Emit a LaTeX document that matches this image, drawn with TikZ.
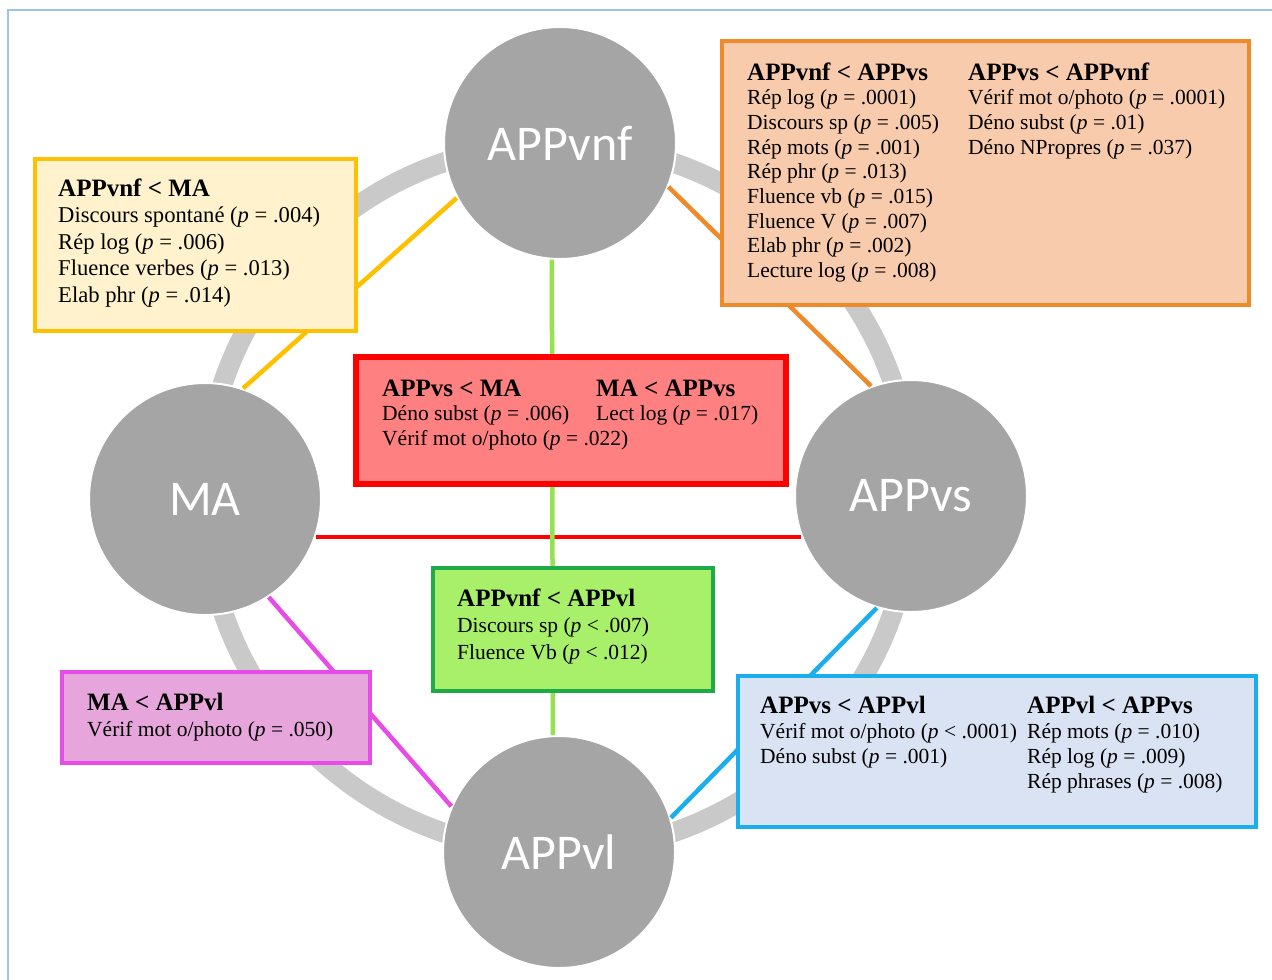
\documentclass[tikz,border=0pt]{standalone}
\usepackage{fontspec}
\setmainfont{Liberation Serif}
\newfontfamily\carlito{Carlito}

\definecolor{bubgray}{HTML}{A5A5A5}
\definecolor{ringgray}{HTML}{C9C9C9}
\definecolor{framecol}{HTML}{9DC3E6}
\definecolor{yelB}{HTML}{FFC000}
\definecolor{yelF}{HTML}{FFF2CC}
\definecolor{oraB}{HTML}{EE8A2A}
\definecolor{oraF}{HTML}{F8CBAD}
\definecolor{redB}{HTML}{FF0000}
\definecolor{redF}{HTML}{FF8080}
\definecolor{grnB}{HTML}{1FAA48}
\definecolor{grnF}{HTML}{A8F06A}
\definecolor{grnL}{HTML}{96E150}
\definecolor{magB}{HTML}{E64CE6}
\definecolor{magF}{HTML}{E6A6DC}
\definecolor{bluB}{HTML}{1AAEEC}
\definecolor{bluF}{HTML}{DAE3F3}

\newcommand{\ttl}[1]{{\fontsize{25}{25}\selectfont\bfseries #1}}
\newcommand{\pv}{\textit{p}}

\begin{document}
\begin{tikzpicture}[x=1pt,y=-1pt,
  bub/.style={circle,fill=bubgray,draw=white,line width=2pt,minimum size=232pt,
    inner sep=0pt,text=white,font=\carlito\fontsize{50}{50}\selectfont},
  box/.style={draw,line width=4pt,inner sep=0pt},
  col/.style={anchor=base west,inner sep=0pt,font=\fontsize{21.5}{25}\selectfont},
  lnk/.style={line width=4.5pt}]
  \useasboundingbox (0,0) rectangle (1272,980);
  % cadre et anneau
  \draw[framecol,line width=1.2pt] (8,980) -- (8,10) -- (1272,10);
  \draw[ringgray,line width=20pt] (558,497.5) circle[radius=354pt];
  % les quatre groupes
  \node[bub] (vnf) at (560,143) {APPvnf};
  \node[bub] (ma)  at (205,499) {MA};
  \node[bub] (vs)  at (911,496) {APPvs};
  \node[bub] (vl)  at (559,852) {APPvl};
  % liens entre groupes
  \draw[lnk,yelB] (ma.71) -- (vnf.208);
  \draw[lnk,oraB] (vnf.338) -- (vs.110);
  \draw[lnk,redB] (ma.341) -- (ma.341 -| vs.200);
  \draw[lnk,grnL] (vnf.266) -- (vl.93);
  \draw[lnk,magB] (ma.303) -- (vl.157);
  \draw[lnk,bluB] (vs.253) -- (vl.17);
  % APPvnf / MA
  \node[box,draw=yelB,fill=yelF,minimum width=321pt,minimum height=172pt] (bvm) at (195.5,245) {};
  \node[col,font=\fontsize{22.6}{26.5}\selectfont] (tvm) at (58,196) {\begin{tabular}[t]{@{}l@{}}
    \ttl{APPvnf < MA}\\
    Discours spontané (\pv{} = .004)\\
    Rép log (\pv{} = .006)\\
    Fluence verbes (\pv{} = .013)\\
    Elab phr (\pv{} = .014)\end{tabular}};
  % APPvnf / APPvs
  \node[box,draw=oraB,fill=oraF,minimum width=527pt,minimum height=264pt] (bvv) at (985.5,173) {};
  \node[col,font=\fontsize{21.5}{24.7}\selectfont] (tvv1) at (747,80) {\begin{tabular}[t]{@{}l@{}}
    \ttl{APPvnf < APPvs}\\
    Rép log (\pv{} = .0001)\\
    Discours sp (\pv{} = .005)\\
    Rép mots (\pv{} = .001)\\
    Rép phr (\pv{} = .013)\\
    Fluence vb (\pv{} = .015)\\
    Fluence V (\pv{} = .007)\\
    Elab phr (\pv{} = .002)\\
    Lecture log (\pv{} = .008)\end{tabular}};
  \node[col,font=\fontsize{21.5}{24.7}\selectfont] (tvv2) at (968,80) {\begin{tabular}[t]{@{}l@{}}
    \ttl{APPvs < APPvnf}\\
    Vérif mot o/photo (\pv{} = .0001)\\
    Déno subst (\pv{} = .01)\\
    Déno NPropres (\pv{} = .037)\end{tabular}};
  % APPvs / MA
  \node[box,draw=redB,fill=redF,line width=6pt,minimum width=430pt,minimum height=127pt] (bsm) at (570.5,420) {};
  \node[col,font=\fontsize{21.5}{24.5}\selectfont] (tsm1) at (382,396) {\begin{tabular}[t]{@{}l@{}}
    \ttl{APPvs < MA}\\
    Déno subst (\pv{} = .006)\\
    Vérif mot o/photo (\pv{} = .022)\end{tabular}};
  \node[col,font=\fontsize{21.5}{24.5}\selectfont] (tsm2) at (596,396) {\begin{tabular}[t]{@{}l@{}}
    \ttl{MA < APPvs}\\
    Lect log (\pv{} = .017)\end{tabular}};
  % APPvnf / APPvl
  \node[box,draw=grnB,fill=grnF,minimum width=280pt,minimum height=123pt] (bvl) at (573,629.5) {};
  \node[col,font=\fontsize{21.5}{26.5}\selectfont] (tvl) at (457,606) {\begin{tabular}[t]{@{}l@{}}
    \ttl{APPvnf < APPvl}\\
    Discours sp (\pv{} < .007)\\
    Fluence Vb (\pv{} < .012)\end{tabular}};
  % MA / APPvl
  \node[box,draw=magB,fill=magF,minimum width=308pt,minimum height=91pt] (bml) at (216,717.5) {};
  \node[col,font=\fontsize{21.5}{26}\selectfont] (tml) at (87,710) {\begin{tabular}[t]{@{}l@{}}
    \ttl{MA < APPvl}\\
    Vérif mot o/photo (\pv{} = .050)\end{tabular}};
  % APPvs / APPvl
  \node[box,draw=bluB,fill=bluF,minimum width=518pt,minimum height=151pt] (bsl) at (997,751.5) {};
  \node[col] (tsl1) at (760,713) {\begin{tabular}[t]{@{}l@{}}
    \ttl{APPvs < APPvl}\\
    Vérif mot o/photo (\pv{} < .0001)\\
    Déno subst (\pv{} = .001)\end{tabular}};
  \node[col] (tsl2) at (1027,713) {\begin{tabular}[t]{@{}l@{}}
    \ttl{APPvl < APPvs}\\
    Rép mots (\pv{} = .010)\\
    Rép log (\pv{} = .009)\\
    Rép phrases (\pv{} = .008)\end{tabular}};
\end{tikzpicture}
\end{document}
